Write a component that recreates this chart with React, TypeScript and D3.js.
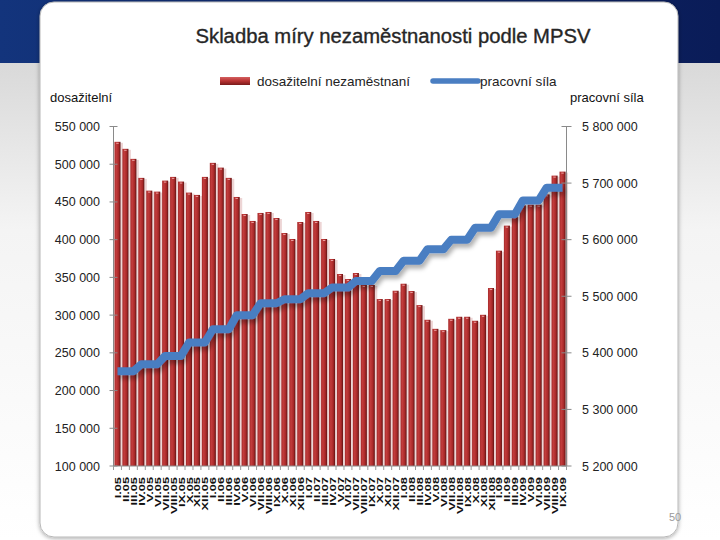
import React from "react";
import * as d3 from "d3";

const months = [
  "I.05","II.05","III.05","IV.05","V.05","VI.05","VII.05","VIII.05","IX.05","X.05","XI.05","XII.05",
  "I.06","II.06","III.06","IV.06","V.06","VI.06","VII.06","VIII.06","IX.06","X.06","XI.06","XII.06",
  "I.07","II.07","III.07","IV.07","V.07","VI.07","VII.07","VIII.07","IX.07","X.07","XI.07","XII.07",
  "I.08","II.08","III.08","IV.08","V.08","VI.08","VII.08","VIII.08","IX.08","X.08","XI.08","XII.08",
  "I.09","II.09","III.09","IV.09","V.09","VI.09","VII.09","VIII.09","IX.09",
];

const unemployed = [
  529700, 520400, 507100, 481900, 465000, 463700, 478300, 483200, 477000, 462400,
  459300, 483200, 501800, 495500, 481900, 456600, 434000, 424800, 435400, 436700,
  428700, 408800, 400900, 423400, 436700, 424800, 400900, 374400, 354500, 347800,
  355800, 340000, 340000, 321300, 321300, 332300, 341600, 331900, 313300, 293800,
  281800, 280100, 295100, 297800, 297800, 292500, 300400, 335900, 385400, 418600,
  430900, 445500, 446400, 446400, 460000, 484900, 490200,
];

// quarterly labour force (each quarter covers three months)
const laborForceQuarterly = [
  5367600, 5380000, 5394600, 5418300, 5441800, 5466500, 5487600, 5494700,
  5505300, 5515300, 5527000, 5544600, 5562600, 5582900, 5600000, 5621200,
  5644700, 5669400, 5691800,
];

const leftTicks = [100000, 150000, 200000, 250000, 300000, 350000, 400000, 450000, 500000, 550000];
const rightTicks = [5200000, 5300000, 5400000, 5500000, 5600000, 5700000, 5800000];

const title = "Skladba míry nezaměstnanosti podle MPSV";
const legendBar = "dosažitelní nezaměstnaní";
const legendLine = "pracovní síla";
const leftTitle = "dosažitelní";
const rightTitle = "pracovní síla";

const fmt = d3
  .formatLocale({ thousands: " ", grouping: [3], decimal: ",", currency: ["", ""] })
  .format(",d");

export default function App() {
  const top = 126.5;
  const bottom = 466;
  const x0 = 113.5;
  const x1 = 566.5;

  const x = d3.scaleBand<string>().domain(months).range([x0, x1]).paddingInner(0.24).paddingOuter(0.12);
  const yL = d3.scaleLinear().domain([100000, 550000]).range([bottom, top]);
  const yR = d3.scaleLinear().domain([5200000, 5800000]).range([bottom, top]);

  const lineData = months.map((m, i) => ({ m, v: laborForceQuarterly[Math.floor(i / 3)] }));
  const lineGen = d3
    .line<{ m: string; v: number }>()
    .x((d) => (x(d.m) as number) + x.bandwidth() / 2)
    .y((d) => yR(d.v));

  const font = "'Liberation Sans', Arial, sans-serif";
  const step = x.step();
  const gap = step - x.bandwidth();
  const tickXs = months.map((m) => (x(m) as number) - gap / 2).concat([x1]);

  return (
    <svg
      width={720}
      height={540}
      style={{ position: "absolute", left: 0, top: 0, display: "block" }}
      fontFamily={font}
    >
      <defs>
        <linearGradient id="band" x1="0" y1="0" x2="1" y2="0">
          <stop offset="0" stopColor="#13347c" />
          <stop offset="1" stopColor="#0a1c58" />
        </linearGradient>
        <linearGradient id="below" x1="0" y1="0" x2="0" y2="1">
          <stop offset="0" stopColor="#d9d9d9" />
          <stop offset="0.35" stopColor="#f4f4f4" />
          <stop offset="1" stopColor="#ffffff" />
        </linearGradient>
        <linearGradient id="bar" x1="0" y1="0" x2="1" y2="0">
          <stop offset="0" stopColor="#a62a2a" />
          <stop offset="0.3" stopColor="#c23c3c" />
          <stop offset="0.7" stopColor="#a82828" />
          <stop offset="1" stopColor="#5e1313" />
        </linearGradient>
        <linearGradient id="legbar" x1="0" y1="0" x2="0" y2="1">
          <stop offset="0" stopColor="#d46060" />
          <stop offset="0.5" stopColor="#b83232" />
          <stop offset="1" stopColor="#7a1a1a" />
        </linearGradient>
        <filter id="lineShadow" x="-10%" y="-10%" width="120%" height="130%">
          <feDropShadow dx="2" dy="4" stdDeviation="2" floodColor="#000" floodOpacity="0.3" />
        </filter>
        <filter id="cardShadow" x="-5%" y="-5%" width="110%" height="110%">
          <feDropShadow dx="0" dy="1" stdDeviation="2" floodColor="#000" floodOpacity="0.35" />
        </filter>
      </defs>

      {/* slide background */}
      <rect x={0} y={0} width={720} height={540} fill="#ffffff" />
      <rect x={0} y={0} width={720} height={63} fill="url(#band)" />
      <rect x={0} y={63} width={720} height={477} fill="url(#below)" />
      <text x={652} y={43} fill="#ffffff" fontSize={10}>.cz</text>

      {/* card */}
      <rect
        x={40}
        y={2}
        width={638}
        height={535}
        rx={14}
        fill="#ffffff"
        stroke="#b8b8b8"
        strokeWidth={1}
        filter="url(#cardShadow)"
      />
      <text x={675} y={521} fontSize={11} fill="#9a9a9a" textAnchor="middle">50</text>

      {/* title */}
      <text x={393} y={43} textAnchor="middle" fontSize={20} fill="#262626" stroke="#262626" strokeWidth={0.35} textLength={395} lengthAdjust="spacingAndGlyphs">
        {title}
      </text>

      {/* legend */}
      <rect x={220} y={77} width={30} height={8} fill="url(#legbar)" />
      <text x={257} y={86} fontSize={13.5} fill="#222">{legendBar}</text>
      <line x1={433} y1={81} x2={478} y2={81} stroke="#4a7ec2" strokeWidth={5.5} strokeLinecap="round" />
      <text x={480} y={86} fontSize={13.5} fill="#222">{legendLine}</text>

      {/* axis titles */}
      <text x={50} y={102} fontSize={13} fill="#111">{leftTitle}</text>
      <text x={570} y={102} fontSize={13} fill="#111">{rightTitle}</text>

      {/* bar shadows */}
      {unemployed.map((v, i) => (
        <rect
          key={"s" + i}
          x={(x(months[i]) as number) + 1.5}
          y={yL(v) + 1}
          width={x.bandwidth() + 1}
          height={bottom - yL(v) - 1}
          fill="#e8caca"
          opacity={0.8}
        />
      ))}
      {/* bars */}
      {unemployed.map((v, i) => (
        <g key={"b" + i}>
          <rect
            x={x(months[i]) as number}
            y={yL(v)}
            width={x.bandwidth()}
            height={bottom - yL(v)}
            fill="url(#bar)"
          />
          <rect
            x={(x(months[i]) as number) + x.bandwidth() * 0.3}
            y={yL(v) + 1}
            width={x.bandwidth() * 0.4}
            height={1}
            fill="#e9a0a0"
          />
        </g>
      ))}

      {/* axes */}
      <line x1={x0} y1={top} x2={x0} y2={bottom} stroke="#8a8a8a" />
      <line x1={x1} y1={top} x2={x1} y2={bottom} stroke="#8a8a8a" />
      <line x1={x0} y1={bottom} x2={x1} y2={bottom} stroke="#8a8a8a" />
      {leftTicks.map((t) => (
        <g key={"l" + t}>
          <line x1={x0 - 4} x2={x0 + 4} y1={yL(t)} y2={yL(t)} stroke="#8a8a8a" />
          <text x={100} y={yL(t) + 4.5} textAnchor="end" fontSize={12.5} fill="#222">
            {fmt(t)}
          </text>
        </g>
      ))}
      {rightTicks.map((t) => (
        <g key={"r" + t}>
          <line x1={x1 - 5} x2={x1 + 5} y1={yR(t)} y2={yR(t)} stroke="#8a8a8a" />
          <text x={582} y={yR(t) + 4.5} textAnchor="start" fontSize={12.5} fill="#222">
            {fmt(t)}
          </text>
        </g>
      ))}
      {tickXs.map((tx, i) => (
        <line key={"xt" + i} x1={tx} x2={tx} y1={bottom} y2={bottom + 4} stroke="#9a9a9a" />
      ))}
      {months.map((m) => {
        const cx = (x(m) as number) + x.bandwidth() / 2;
        return (
          <text
            key={"xl" + m}
            transform={`translate(${cx + 3.5},${477}) rotate(-90) scale(1.35,1)`}
            textAnchor="end"
            fontSize={9.5}
            fontWeight="bold"
            fill="#111"
          >
            {m}
          </text>
        );
      })}

      {/* labour force line */}
      <path
        d={lineGen(lineData) || ""}
        fill="none"
        stroke="#4a7ec2"
        strokeWidth={8}
        strokeLinejoin="round"
        filter="url(#lineShadow)"
      />
    </svg>
  );
}
